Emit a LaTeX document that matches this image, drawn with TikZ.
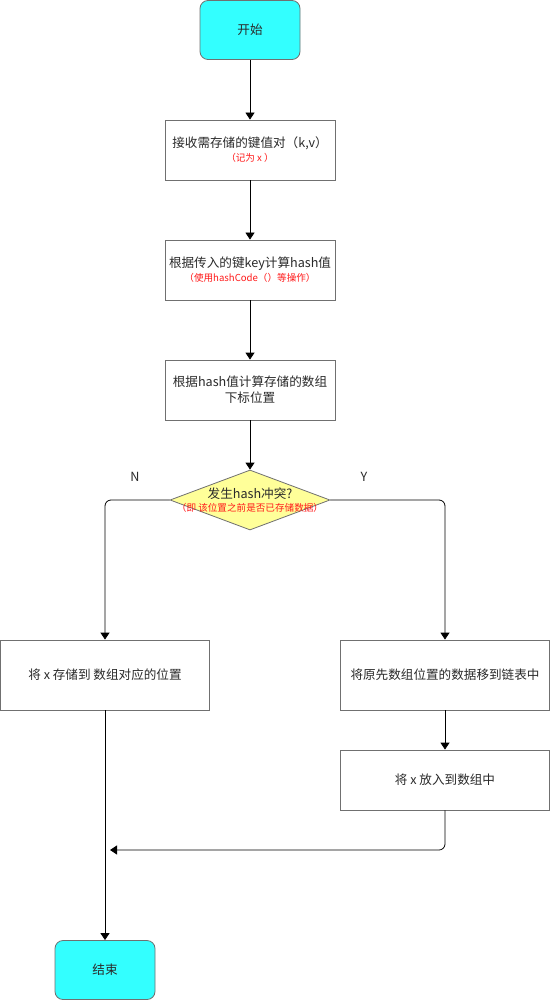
\documentclass[tikz,border=0pt]{standalone}
\usepackage{fontspec}
\setmainfont{Noto Sans CJK SC}
\usetikzlibrary{arrows.meta,shapes.geometric}
\definecolor{startcyan}{HTML}{33FFFF}
\definecolor{dyellow}{HTML}{FFFF99}
\definecolor{bordergray}{HTML}{707070}
\definecolor{txt}{HTML}{2A2A2A}
\definecolor{redtxt}{HTML}{FF1A1A}
\newcommand{\note}[1]{{\color{redtxt}\fontsize{9.6}{11}\selectfont #1}}
\begin{document}
\begin{tikzpicture}[x=1pt,y=-1pt,
  font=\fontsize{12.6}{16}\selectfont,
  every node/.style={text=txt},
  terminal/.style={draw=bordergray,fill=startcyan,rounded corners=8pt,minimum width=100pt,minimum height=59pt,inner sep=0pt,line width=0.8pt},
  procbox/.style={draw=bordergray,fill=white,minimum width=170pt,minimum height=60pt,inner sep=0pt,align=center,line width=0.8pt},
  widebox/.style={draw=bordergray,fill=white,minimum width=209pt,minimum height=70pt,inner sep=0pt,align=center,line width=0.8pt},
  arr/.style={draw=black,line width=0.8pt,-{Triangle[length=7pt,width=9pt]}}]
\useasboundingbox[fill=white] (0,0) rectangle (550,1000);

\node[terminal] (start) at (250,30) {开始};
\node[procbox] (b1) at (250,150) {接收需存储的键值对（k,v）\\[-2pt]\note{（记为 x ）}};
\node[procbox] (b2) at (250,270) {根据传入的键key计算hash值\\[-2pt]\note{（使用hashCode（）等操作）}};
\node[procbox] (b3) at (250,390) {根据hash值计算存储的数组\\下标位置};
\node[draw=bordergray,fill=dyellow,shape=diamond,minimum width=160pt,minimum height=60pt,inner sep=0pt,line width=0.8pt] (d) at (250,500) {};
\node[align=center,inner sep=0pt] (dt) at (250,500) {发生hash冲突?\\[-3pt]{\color{redtxt}\fontsize{9.6}{10}\selectfont（即 该位置之前是否已存储数据）}};
\node[widebox] (left) at (105,675) {将 x 存储到 数组对应的位置};
\node[widebox] (right) at (445,675) {将原先数组位置的数据移到链表中};
\node[widebox,minimum height=60pt] (right2) at (445,780) {将 x 放入到数组中};
\node[terminal] (end) at (105,970) {结束};

\node (nlab) at (135,477) {N};
\node (ylab) at (364,477) {Y};

\coordinate (merge) at (110,850);

\draw[arr] (start) -- (b1);
\draw[arr] (b1) -- (b2);
\draw[arr] (b2) -- (b3);
\draw[arr] (b3) -- (d);
\draw[arr,rounded corners=6pt] (d.west) -| (left.north);
\draw[arr,rounded corners=6pt] (d.east) -| (right.north);
\draw[arr] (right) -- (right2);
\draw[arr,rounded corners=6pt] (right2.south) |- (merge);
\draw[arr] (left.south) -- (end.north);
\end{tikzpicture}
\end{document}
